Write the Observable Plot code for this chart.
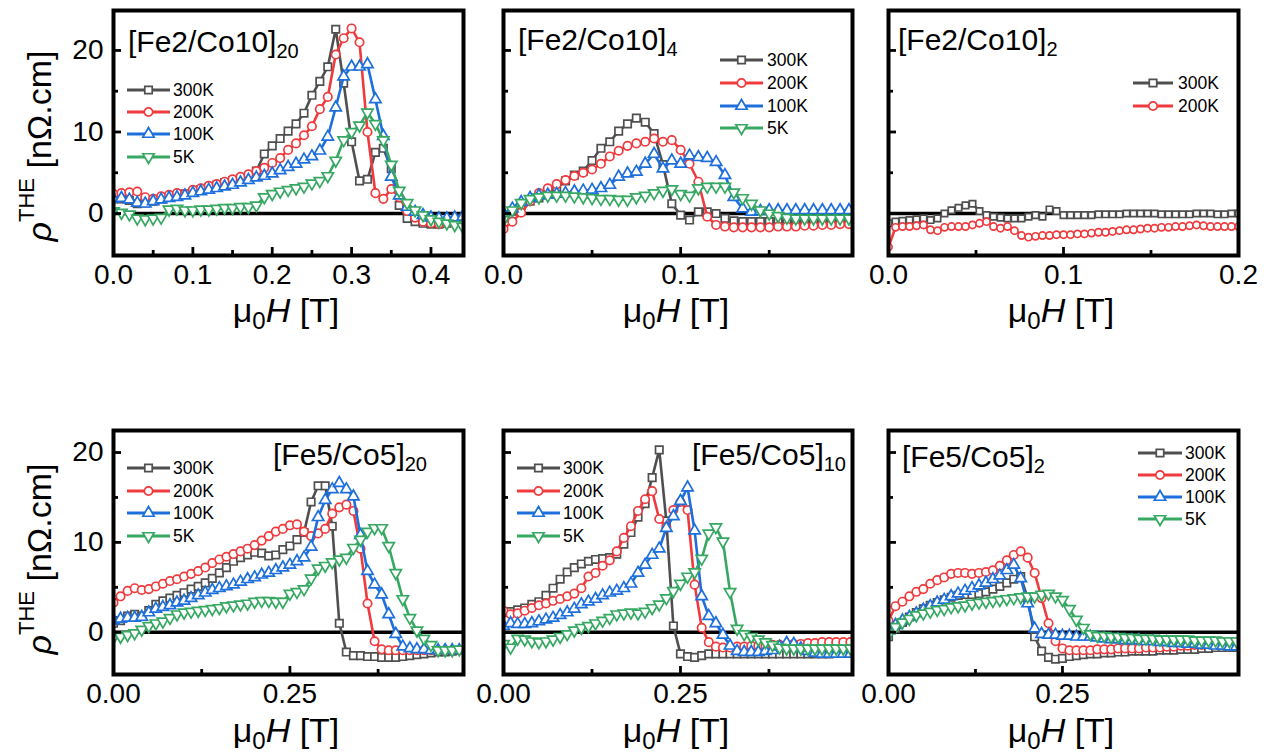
<!DOCTYPE html>
<html><head><meta charset="utf-8">
<script src="https://cdn.jsdelivr.net/npm/d3@7"></script>
<script src="https://cdn.jsdelivr.net/npm/@observablehq/plot@0.6"></script>
<style>
html,body{margin:0;padding:0;background:#fff;}
#root{position:relative;width:1274px;height:756px;overflow:hidden;font-family:"Liberation Sans",Arial,sans-serif;}
#root svg{position:absolute;overflow:visible;}
</style></head><body><div id="root"></div>
<script>
// ---------------- DATA ----------------
const temps = ["300K","200K","100K","5K"];
const tempsC = ["300K","200K"];

// [Fe2/Co10]20
const fieldA = [0,0.01,0.02,0.03,0.04,0.05,0.06,0.07,0.08,0.09,0.1,0.11,0.12,0.13,0.14,0.15,0.16,0.17,0.18,0.19,0.2,0.21,0.22,0.23,0.24,0.25,0.26,0.27,0.28,0.29,0.3,0.31,0.32,0.33,0.34,0.35,0.36,0.37,0.38,0.39,0.4,0.41,0.42,0.43,0.44];
const a300 = [1.8,1.8,1.6,1.2,1.3,1.5,1.8,2.0,2.2,2.4, 2.6,2.9,3.2,3.5,3.8,4.0,4.3,4.6,5.2,7.3, 8.3,9.2,10.1,11.0,12.3,14.5,16.2,18.0,22.6,16.0, 8.8,4.0,4.2,7.5,8.0,5.5,1.0,-0.6,-1.0,-1.2, -1.3,-1.3,-1.2,-0.9,-0.6];
const a200 = [2.4,2.5,2.6,2.7,2.0,1.8,2.1,2.3,2.5,2.4, 2.9,3.1,3.4,3.6,3.9,4.2,4.5,4.8,5.2,5.6, 6.2,6.8,7.8,8.6,9.6,10.7,12.8,14.3,19.5,21.5, 22.7,21.0,10.0,2.5,1.8,3.0,2.0,0.3,-0.5,-1.0, -1.2,-1.3,-1.2,-1.1,-1.0];
const a100 = [1.8,1.9,1.7,1.3,1.2,1.5,1.7,1.9,2.0,2.2, 2.5,2.7,2.9,3.1,3.3,3.5,3.8,4.1,4.4,4.6, 4.9,5.3,5.7,6.1,6.6,7.0,7.7,9.4,13.0,16.8, 18.0,18.0,18.3,14.0,9.5,4.5,2.2,0.8,0.2,-0.2, -0.5,-0.6,-0.6,-0.5,-0.4];
const a5 = [0.3,0.1,-0.1,-0.6,-0.7,-0.6,-0.5,0.5,0.6,0.4, 0.4,0.5,0.5,0.6,0.7,0.7,0.8,0.8,1.0,2.0, 2.4,2.7,2.9,3.1,3.3,3.7,4.0,4.6,6.5,9.0, 10.0,10.8,12.4,11.0,9.0,6.0,2.8,1.3,0.4,-0.2, -0.7,-1.0,-1.2,-1.4,-1.6];

// [Fe2/Co10]4
const fieldB = [0,0.005,0.01,0.015,0.02,0.025,0.03,0.035,0.04,0.045,0.05,0.055,0.06,0.065,0.07,0.075,0.08,0.085,0.09,0.095,0.1,0.105,0.11,0.115,0.12,0.125,0.13,0.135,0.14,0.145,0.15,0.155,0.16,0.165,0.17,0.175,0.18,0.185,0.19,0.195];
const b300 = [-0.5,0.3,1.0,1.5,1.9,2.6,3.2,4.0,4.7,5.2, 6.5,8.0,8.8,10.1,11.0,11.7,11.2,9.8,6.0,1.2, -0.2,-0.8,0.2,0.2,0.0,-0.6,-0.9,-1.0,-1.0,-1.0, -1.0,-1.0,-1.0,-1.0,-0.9,-0.9,-0.9,-0.8,-0.8,-0.8];
const b200 = [-1.9,-1.0,0.1,1.5,2.5,3.1,3.6,4.1,4.6,5.0, 5.4,6.1,7.0,7.7,8.3,8.6,8.8,9.2,8.8,9.0, 7.8,6.1,3.9,-0.4,-1.4,-1.6,-1.7,-1.7,-1.7,-1.7, -1.7,-1.6,-1.6,-1.6,-1.5,-1.5,-1.4,-1.4,-1.3,-1.3];
const b100 = [0.0,0.6,1.4,1.9,2.2,2.3,2.4,2.5,2.7,2.8, 2.9,3.1,3.5,4.5,4.9,5.1,6.1,7.3,5.5,6.5, 6.1,7.1,6.9,6.8,6.3,4.7,2.0,0.6,0.2,0.3, 0.4,0.4,0.4,0.4,0.4,0.4,0.4,0.4,0.4,0.4];
const b5 = [-0.8,0.4,1.3,1.8,2.0,2.2,2.2,2.2,2.1,2.0, 1.9,1.8,1.8,1.7,1.7,2.0,2.2,2.5,2.8,3.0, 2.4,2.2,3.1,3.3,3.3,3.3,2.6,1.9,1.2,0.4, 0.0,-0.3,-0.5,-0.6,-0.6,-0.6,-0.6,-0.6,-0.6,-0.6];

// [Fe2/Co10]2
const fieldC = [0,0.004,0.008,0.012,0.016,0.02,0.024,0.028,0.032,0.036,0.04,0.044,0.048,0.052,0.056,0.06,0.064,0.068,0.072,0.076,0.08,0.084,0.088,0.092,0.096,0.1,0.104,0.108,0.112,0.116,0.12,0.124,0.128,0.132,0.136,0.14,0.144,0.148,0.152,0.156,0.16,0.164,0.168,0.172,0.176,0.18,0.184,0.188,0.192,0.196,0.2];
const c300 = [-1.2,-1.0,-0.9,-0.8,-0.7,-0.6,-0.8,-0.6,0.0,0.4, 0.7,1.0,1.2,0.3,-0.2,-0.4,-0.5,-0.6,-0.6,-0.6, -0.4,-0.2,-0.4,0.5,0.3,-0.2,-0.2,-0.2,-0.2,-0.2, -0.1,-0.1,-0.1,-0.1,0.0,0.0,0.0,0.0,0.0,-0.1, -0.1,-0.1,-0.1,-0.1,0.0,0.0,0.0,-0.1,-0.1,0.0, 0.0];
const c200 = [-4.1,-1.7,-1.6,-1.6,-1.5,-1.4,-2.0,-2.1,-1.7,-1.6, -1.6,-1.6,-1.4,-1.2,-1.0,-1.6,-1.8,-1.6,-2.1,-2.7, -2.9,-2.8,-2.7,-2.7,-2.6,-2.6,-2.6,-2.5,-2.5,-2.4, -2.3,-2.3,-2.2,-2.1,-2.0,-2.0,-1.9,-1.8,-1.8,-1.7, -1.7,-1.6,-1.6,-1.5,-1.4,-1.5,-1.6,-1.6,-1.6,-1.6, -1.6];

// [Fe5/Co5]20
const fieldD = [0,0.01,0.02,0.03,0.04,0.05,0.06,0.07,0.08,0.09,0.1,0.11,0.12,0.13,0.14,0.15,0.16,0.17,0.18,0.19,0.2,0.21,0.22,0.23,0.24,0.25,0.26,0.27,0.28,0.29,0.3,0.31,0.32,0.33,0.34,0.35,0.36,0.37,0.38,0.39,0.4,0.41,0.42,0.43,0.44,0.45,0.46,0.47,0.48,0.49];
const d300 = [1.0,1.3,1.8,2.0,1.8,2.4,3.1,3.5,3.8,4.1, 4.4,4.8,5.1,5.5,6.0,6.6,7.2,7.9,8.3,8.6, 8.9,8.8,8.5,8.6,9.2,9.6,10.3,11.1,14.5,16.3, 16.3,11.8,1.0,-2.2,-2.6,-2.6,-2.7,-2.7,-2.8,-2.8, -2.8,-2.7,-2.6,-2.5,-2.4,-2.3,-2.2,-2.2,-2.1,-2.0];
const d200 = [3.3,4.0,4.6,4.9,4.7,4.8,5.1,5.4,5.7,5.9, 6.2,6.5,6.8,7.2,7.7,8.1,8.4,8.7,9.0,9.3, 9.7,10.2,10.7,11.2,11.5,11.9,12.0,11.2,10.7,11.0, 11.5,13.2,13.9,14.2,13.5,9.3,3.2,-1.0,-1.9,-2.0, -2.0,-2.0,-2.0,-2.0,-2.0,-2.0,-2.0,-2.0,-2.0,-2.0];
const d100 = [1.3,1.5,1.6,1.6,1.7,2.2,2.6,2.8,3.0,3.3, 3.5,3.8,4.1,4.4,4.7,4.9,5.1,5.3,5.6,5.9, 6.1,6.4,6.6,6.9,7.2,7.5,7.9,8.3,9.5,12.8, 14.7,15.9,16.6,15.9,15.1,10.8,6.8,5.3,4.2,2.0, -0.2,-1.6,-1.8,-1.9,-1.9,-2.0,-2.0,-2.0,-2.0,-2.0];
const d5 = [-0.6,-0.5,-0.3,-0.1,0.3,0.7,1.0,1.2,1.6,2.0, 2.2,2.3,2.4,2.5,2.6,2.7,2.9,3.0,3.1,3.2, 3.4,3.5,3.5,3.4,3.4,4.3,4.5,4.8,6.0,7.1, 7.4,7.8,8.1,8.3,9.4,10.3,11.2,11.6,11.6,9.6, 6.6,3.7,1.6,0.2,-0.7,-1.4,-2.0,-2.0,-2.0,-1.9];

// [Fe5/Co5]10
const fieldE = [0,0.01,0.02,0.03,0.04,0.05,0.06,0.07,0.08,0.09,0.1,0.11,0.12,0.13,0.14,0.15,0.16,0.17,0.18,0.19,0.2,0.21,0.22,0.23,0.24,0.25,0.26,0.27,0.28,0.29,0.3,0.31,0.32,0.33,0.34,0.35,0.36,0.37,0.38,0.39,0.4,0.41,0.42,0.43,0.44,0.45,0.46,0.47,0.48,0.49];
const e300 = [2.2,2.3,2.5,2.7,3.1,3.4,4.1,4.9,5.9,6.7, 7.2,7.6,7.9,8.1,8.2,8.3,8.7,9.8,11.1,12.8, 14.3,17.2,20.3,12.4,0.7,-2.4,-2.7,-2.8,-2.6,-2.4, -2.4,-2.4,-2.4,-2.4,-2.4,-2.4,-2.4,-2.4,-2.4,-2.4, -2.4,-2.4,-2.4,-2.4,-2.4,-2.4,-2.4,-2.3,-2.3,-2.3];
const e200 = [2.4,2.0,2.1,2.4,2.7,3.0,3.2,3.5,3.7,4.0, 4.3,4.9,6.2,6.6,7.4,8.0,9.0,10.5,11.8,13.5, 14.8,15.7,12.6,11.7,13.6,14.5,13.6,5.3,0.5,-1.1, -1.6,-1.7,-1.7,-1.6,-1.6,-1.5,-1.5,-1.5,-1.4,-1.4, -1.4,-1.3,-1.3,-1.2,-1.2,-1.1,-1.1,-1.1,-1.1,-1.1];
const e100 = [0.7,1.0,0.9,0.9,1.0,1.2,1.4,1.6,1.9,2.2, 2.6,3.1,3.4,3.7,4.1,4.4,4.6,4.9,5.4,6.6, 7.5,8.6,9.3,11.6,12.9,14.6,16.1,11.3,4.0,1.8, 1.0,-0.3,-1.5,-2.1,-2.2,-2.2,-2.2,-2.1,-2.0,-1.6, -1.2,-1.3,-1.8,-2.1,-2.3,-2.4,-2.4,-2.4,-2.4,-2.4];
const e5 = [-1.3,-1.7,-0.7,-0.8,-1.0,-1.1,-1.0,-0.8,-0.5,-0.2, 0.2,0.5,0.7,1.0,1.3,1.6,2.0,2.1,2.2,2.1, 2.3,2.7,3.1,3.8,4.6,5.4,6.2,6.7,8.2,11.0, 11.7,10.1,4.5,0.4,-0.2,-0.5,-0.8,-1.1,-1.4,-1.7, -1.8,-1.8,-1.8,-1.8,-1.8,-1.8,-1.8,-1.8,-1.8,-1.8];

// [Fe5/Co5]2
const fieldF = [0,0.01,0.02,0.03,0.04,0.05,0.06,0.07,0.08,0.09,0.1,0.11,0.12,0.13,0.14,0.15,0.16,0.17,0.18,0.19,0.2,0.21,0.22,0.23,0.24,0.25,0.26,0.27,0.28,0.29,0.3,0.31,0.32,0.33,0.34,0.35,0.36,0.37,0.38,0.39,0.4,0.41,0.42,0.43,0.44,0.45,0.46,0.47,0.48,0.49,0.5];
const f300 = [-0.5,0.4,1.1,1.7,2.2,2.6,3.0,3.3,3.6,3.9, 4.1,4.2,4.2,4.3,4.5,4.8,5.1,5.5,5.9,6.2, 3.8,-0.5,-2.1,-2.8,-3.0,-2.9,-2.7,-2.6,-2.5,-2.4, -2.4,-2.3,-2.3,-2.2,-2.2,-2.1,-2.1,-2.1,-2.1,-2.0, -2.0,-2.0,-1.9,-1.9,-1.9,-1.8,-1.8,-1.7,-1.7,-1.7, -1.7];
const f200 = [1.3,2.9,3.4,4.0,4.5,4.8,5.4,5.8,6.1,6.5, 6.6,6.6,6.5,6.6,6.7,6.9,7.4,8.0,8.6,9.0, 8.3,6.6,3.8,1.0,-1.0,-1.8,-2.0,-2.0,-2.0,-2.0, -1.9,-1.9,-1.9,-1.8,-1.8,-1.8,-1.8,-1.7,-1.7,-1.7, -1.6,-1.6,-1.5,-1.5,-1.4,-1.4,-1.3,-1.3,-1.4,-1.4, -1.4];
const f100 = [0.2,0.8,1.3,1.7,2.1,2.5,2.9,3.3,3.6,4.0, 4.3,4.6,4.9,5.2,5.5,5.9,6.3,6.9,7.5,6.0, 3.2,0.4,-0.2,-0.3,-0.3,-0.4,-0.4,-0.5,-0.5,-0.5, -0.6,-0.7,-0.8,-0.8,-0.9,-0.9,-0.9,-1.0,-1.0,-1.1, -1.1,-1.2,-1.2,-1.3,-1.3,-1.4,-1.4,-1.5,-1.5,-1.6, -1.6];
const f5 = [-0.3,0.6,1.1,1.5,1.9,2.1,2.3,2.5,2.6,2.8, 2.9,3.0,3.2,3.3,3.4,3.5,3.6,3.7,3.8,3.9, 4.0,4.0,4.2,4.3,4.0,3.6,2.6,1.4,0.5,-0.2, -0.4,-0.4,-0.5,-0.5,-0.6,-0.6,-0.7,-0.7,-0.7,-0.8, -0.8,-0.8,-0.8,-0.8,-0.9,-0.9,-0.9,-0.9,-1.0,-1.0, -1.0];

// tick values
const xTicksA = [0,0.1,0.2,0.3,0.4], xMinorA = [0.05,0.15,0.25,0.35];
const xTicksB = [0,0.1], xMinorB = [0.05,0.15];
const xTicksC = [0,0.1,0.2], xMinorC = [0.05,0.15];
const xTicksBot = [0,0.25], xMinorBot = [0.125,0.375];
const yTicks = [0,10,20], yMinor = [5,15];

// ---------------- STYLE ----------------
const FONT = '"Liberation Sans", Arial, sans-serif';
const COLORS = {"300K":"#4f4f4f","200K":"#f03a3d","100K":"#1d6fdc","5K":"#36a862"};
const triDown = {draw(ctx, size){ const s3=Math.sqrt(3); const y=-Math.sqrt(size/(s3*3)); ctx.moveTo(0,-y*2); ctx.lineTo(-s3*y,y); ctx.lineTo(s3*y,y); ctx.closePath(); }};
const SYM = {"300K":d3.symbolSquare,"200K":d3.symbolCircle,"100K":d3.symbolTriangle,"5K":triDown};

const root = document.getElementById("root");

function panel(p){
  const ml=50, mr=15, mt=10, mb=50;
  const W=p.w+ml+mr, H=p.h+mt+mb;
  const marks=[Plot.ruleY([0],{stroke:"#000",strokeWidth:3.5})];
  p.series.forEach(([T,vals])=>{
    const pts=vals.map((v,i)=>({x:p.field[i],y:v}));
    marks.push(Plot.line(pts,{x:"x",y:"y",stroke:COLORS[T],strokeWidth:2.6,clip:true}));
    marks.push(Plot.dot(pts,{x:"x",y:"y",symbol:SYM[T],r:p.r,stroke:COLORS[T],fill:"white",strokeWidth:1.7,clip:true}));
  });
  marks.push(Plot.frame({stroke:"#000",strokeWidth:4}));
  marks.push(Plot.tickX(p.xMajor,{x:d=>d,stroke:"#000",strokeWidth:2.8,insetTop:p.h-8}));
  marks.push(Plot.tickX(p.xMinor,{x:d=>d,stroke:"#000",strokeWidth:2.8,insetTop:p.h-5}));
  marks.push(Plot.tickY(yTicks,{y:d=>d,stroke:"#000",strokeWidth:2.8,insetRight:p.w-8}));
  marks.push(Plot.tickY(yMinor,{y:d=>d,stroke:"#000",strokeWidth:2.8,insetRight:p.w-5}));
  marks.push(Plot.axisX(p.xMajor,{tickSize:0,tickPadding:9,fontSize:28,label:null,tickFormat:d3.format(p.fmt)}));
  if(p.yLabels) marks.push(Plot.axisY(yTicks,{tickSize:0,tickPadding:10,fontSize:28,label:null}));
  const svg=Plot.plot({
    width:W,height:H,marginLeft:ml,marginRight:mr,marginTop:mt,marginBottom:mb,
    x:{domain:p.xDomain,label:null},
    y:{domain:p.yDomain,label:null,axis:p.yLabels?undefined:null},
    style:{background:"transparent",overflow:"visible",fontFamily:FONT},
    marks
  });
  svg.style.position="absolute";
  svg.style.left=(p.left-ml)+"px";
  svg.style.top=(p.top-mt)+"px";
  svg.style.maxWidth="none";
  root.appendChild(svg);
}

const yTop=[-5.15,24.9], yBot=[-4.7,22.45];
panel({field:fieldA,series:[["300K",a300],["200K",a200],["100K",a100],["5K",a5]],xDomain:[0,0.441],yDomain:yTop,left:113,top:10,w:350,h:245,xMajor:xTicksA,xMinor:xMinorA,fmt:".1f",yLabels:true,r:4.2});
panel({field:fieldB,series:[["300K",b300],["200K",b200],["100K",b100],["5K",b5]],xDomain:[0,0.197],yDomain:yTop,left:503,top:10,w:349,h:245,xMajor:xTicksB,xMinor:xMinorB,fmt:".1f",yLabels:false,r:4.2});
panel({field:fieldC,series:[["300K",c300],["200K",c200]],xDomain:[0,0.2],yDomain:yTop,left:888,top:10,w:350,h:245,xMajor:xTicksC,xMinor:xMinorC,fmt:".1f",yLabels:false,r:3.6});
panel({field:fieldD,series:[["300K",d300],["200K",d200],["100K",d100],["5K",d5]],xDomain:[0,0.496],yDomain:yBot,left:113,top:430,w:350,h:244,xMajor:xTicksBot,xMinor:xMinorBot,fmt:".2f",yLabels:true,r:4.2});
panel({field:fieldE,series:[["300K",e300],["200K",e200],["100K",e100],["5K",e5]],xDomain:[0,0.493],yDomain:yBot,left:503,top:430,w:349,h:244,xMajor:xTicksBot,xMinor:xMinorBot,fmt:".2f",yLabels:false,r:4.2});
panel({field:fieldF,series:[["300K",f300],["200K",f200],["100K",f100],["5K",f5]],xDomain:[0,0.503],yDomain:yBot,left:888,top:430,w:350,h:244,xMajor:xTicksBot,xMinor:xMinorBot,fmt:".2f",yLabels:false,r:4.2});

// ---------------- OVERLAY TEXT / LEGENDS ----------------
const ov=d3.select(root).append("svg").attr("width",1274).attr("height",756)
  .style("left","0px").style("top","0px").style("font-family",FONT);

function title(x,y,main,sub){
  const t=ov.append("text").attr("x",x).attr("y",y).attr("font-size",30);
  t.append("tspan").text(main);
  t.append("tspan").attr("font-size",20).attr("dy",6).text(sub);
}
function xTitle(cx,y){
  const t=ov.append("text").attr("x",cx).attr("y",y).attr("text-anchor","middle").attr("font-size",34);
  t.append("tspan").text("μ");
  t.append("tspan").attr("font-size",24).attr("dy",7).text("0");
  t.append("tspan").attr("dy",-7).attr("font-style","italic").text("H");
  t.append("tspan").text(" [T]");
}
function yTitle(cx,cy){
  const t=ov.append("text").attr("transform",`translate(${cx},${cy}) rotate(-90)`).attr("text-anchor","middle").attr("font-size",34);
  t.append("tspan").attr("font-style","italic").text("ρ");
  t.append("tspan").attr("font-size",22).attr("dy",-17).text("THE");
  t.append("tspan").attr("dy",17).text(" [nΩ.cm]");
}
function legend(x0,x1,tx,ys,list){
  list.forEach((T,i)=>{
    const y=ys[i];
    ov.append("line").attr("x1",x0).attr("x2",x1).attr("y1",y).attr("y2",y).attr("stroke",COLORS[T]).attr("stroke-width",3);
    ov.append("path").attr("d",d3.symbol(SYM[T],Math.PI*4.2*4.2)()).attr("transform",`translate(${(x0+x1)/2},${y})`)
      .attr("fill","white").attr("stroke",COLORS[T]).attr("stroke-width",1.7);
    ov.append("text").attr("x",tx).attr("y",y).attr("dy","0.36em").attr("font-size",17.5).text(T);
  });
}

title(128,52,"[Fe2/Co10]","20");
title(518,50,"[Fe2/Co10]","4");
title(898,50,"[Fe2/Co10]","2");
title(273,465,"[Fe5/Co5]","20");
title(692,465,"[Fe5/Co5]","10");
title(902,467,"[Fe5/Co5]","2");

[286,676,1061].forEach(cx=>xTitle(cx,322));
[286,676,1061].forEach(cx=>xTitle(cx,742));
yTitle(51,146);
yTitle(51,559);

legend(127,170,173,[90,112,134,157],temps);
legend(720,763,767,[60,83,106,128],temps);
legend(1133,1173,1178,[83,106],tempsC);
legend(127,170,173,[468,491,513,536],temps);
legend(517,560,563,[468,491,513,536],temps);
legend(1138,1182,1185,[453,475,497,519],temps);
</script>
</body></html>
